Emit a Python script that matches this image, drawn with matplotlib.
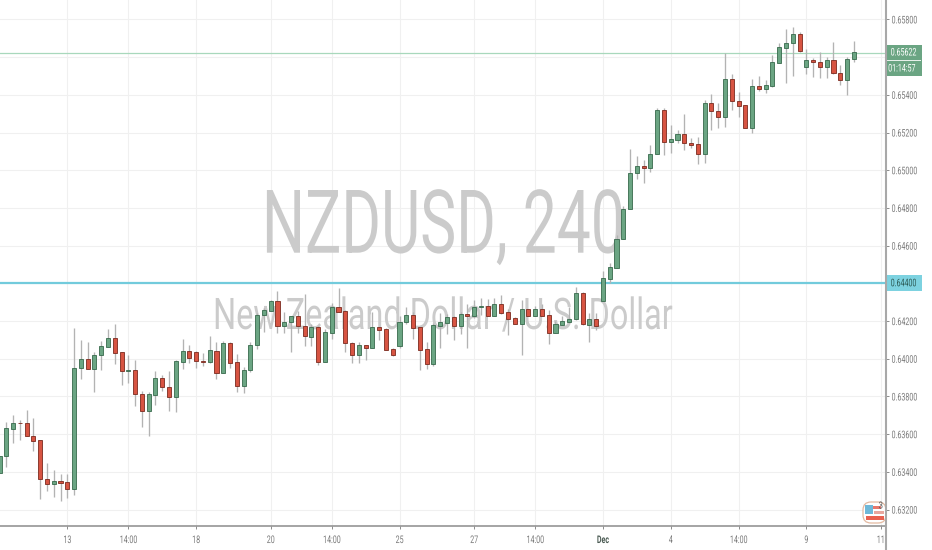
#!/usr/bin/python3
import matplotlib
matplotlib.use("Agg")
import matplotlib.pyplot as plt
import matplotlib.patheffects as pe
from matplotlib.lines import Line2D
from matplotlib.patches import Rectangle, FancyBboxPatch
from matplotlib.transforms import Affine2D, IdentityTransform

W, H = 932, 550
AXIS_X, AXIS_Y = 885, 526

# candles, oldest first
direction = ("GGGRRRRRGR" "RGGRGGGRRG" "RRGGRRGGRR" "RGRGRRGGGG" "GRGGRRGRGG"
             "RRRGRGRRRG" "GRRRGGGRGR" "GGRGRRRGRG" "RRGGGGRGRG" "GGGGGRGGRG"
             "GRRRGRRGRR" "RGRGGGGGRG" "RRGRRGG")
highs = [0.63486, 0.63663, 0.63703, 0.63675, 0.63728, 0.63686, 0.63569, 0.63447, 0.63412, 0.63389,
         0.63389, 0.64163, 0.64098, 0.64090, 0.64034, 0.64096, 0.64156, 0.64186, 0.64036, 0.64020,
         0.63995, 0.63827, 0.63822, 0.63933, 0.63915, 0.63937, 0.63993, 0.64103, 0.64073, 0.64039,
         0.64032, 0.64122, 0.64087, 0.64092, 0.64089, 0.64025, 0.63958, 0.64087, 0.64241, 0.64269,
         0.64313, 0.64361, 0.64246, 0.64228, 0.64255, 0.64343, 0.64187, 0.64174, 0.64157, 0.64295,
         0.64374, 0.64257, 0.64088, 0.64089, 0.64074, 0.64250, 0.64169, 0.64165, 0.64056, 0.64227,
         0.64275, 0.64247, 0.64169, 0.64091, 0.64192, 0.64241, 0.64240, 0.64227, 0.64250, 0.64293,
         0.64310, 0.64325, 0.64316, 0.64321, 0.64339, 0.64263, 0.64222, 0.64310, 0.64266, 0.64280,
         0.64289, 0.64257, 0.64201, 0.64227, 0.64272, 0.64381, 0.64356, 0.64245, 0.64241, 0.64463,
         0.64509, 0.64657, 0.64808, 0.65114, 0.65075, 0.65055, 0.65135, 0.65331, 0.65331, 0.65241,
         0.65211, 0.65296, 0.65172, 0.65175, 0.65370, 0.65405, 0.65359, 0.65620, 0.65511, 0.65417,
         0.65344, 0.65482, 0.65500, 0.65479, 0.65611, 0.65677, 0.65747, 0.65762, 0.65732, 0.65641,
         0.65597, 0.65625, 0.65599, 0.65678, 0.65558, 0.65602, 0.65686]
body_top = [0.63486, 0.63631, 0.63659, 0.63661, 0.63659, 0.63592, 0.63567, 0.63364, 0.63350, 0.63350,
            0.63344, 0.63951, 0.63999, 0.63999, 0.64020, 0.64067, 0.64110, 0.64110, 0.64034, 0.63942,
            0.63940, 0.63815, 0.63811, 0.63898, 0.63898, 0.63848, 0.63986, 0.64039, 0.64039, 0.64034,
            0.63990, 0.64044, 0.64043, 0.64083, 0.64083, 0.63981, 0.63942, 0.64073, 0.64232, 0.64258,
            0.64306, 0.64306, 0.64195, 0.64227, 0.64227, 0.64174, 0.64169, 0.64169, 0.64141, 0.64272,
            0.64272, 0.64252, 0.64086, 0.64074, 0.64072, 0.64169, 0.64169, 0.64158, 0.64051, 0.64197,
            0.64231, 0.64231, 0.64167, 0.64051, 0.64178, 0.64194, 0.64222, 0.64222, 0.64236, 0.64238,
            0.64275, 0.64280, 0.64280, 0.64291, 0.64289, 0.64247, 0.64217, 0.64266, 0.64266, 0.64263,
            0.64263, 0.64231, 0.64183, 0.64199, 0.64213, 0.64348, 0.64348, 0.64211, 0.64211, 0.64428,
            0.64486, 0.64636, 0.64795, 0.64986, 0.65023, 0.65025, 0.65087, 0.65320, 0.65320, 0.65167,
            0.65190, 0.65191, 0.65147, 0.65137, 0.65359, 0.65359, 0.65315, 0.65484, 0.65484, 0.65369,
            0.65344, 0.65445, 0.65445, 0.65450, 0.65572, 0.65654, 0.65673, 0.65723, 0.65723, 0.65587,
            0.65587, 0.65576, 0.65587, 0.65587, 0.65518, 0.65592, 0.65625]
body_bottom = [0.63394, 0.63482, 0.63627, 0.63657, 0.63588, 0.63565, 0.63360, 0.63337, 0.63336, 0.63343,
               0.63307, 0.63307, 0.63949, 0.63944, 0.63944, 0.64018, 0.64064, 0.64032, 0.63935, 0.63935,
               0.63813, 0.63721, 0.63721, 0.63808, 0.63848, 0.63799, 0.63799, 0.63983, 0.64006, 0.63988,
               0.63983, 0.63983, 0.63924, 0.63924, 0.63979, 0.63855, 0.63857, 0.63938, 0.64071, 0.64230,
               0.64255, 0.64174, 0.64172, 0.64193, 0.64172, 0.64119, 0.64118, 0.63982, 0.63982, 0.64137,
               0.64250, 0.64084, 0.64020, 0.64020, 0.64059, 0.64059, 0.64155, 0.64049, 0.64020, 0.64068,
               0.64194, 0.64165, 0.64049, 0.63973, 0.63973, 0.64176, 0.64190, 0.64176, 0.64176, 0.64229,
               0.64229, 0.64272, 0.64229, 0.64229, 0.64245, 0.64213, 0.64187, 0.64187, 0.64229, 0.64229,
               0.64229, 0.64137, 0.64137, 0.64181, 0.64195, 0.64210, 0.64183, 0.64181, 0.64176, 0.64309,
               0.64424, 0.64484, 0.64634, 0.64794, 0.64985, 0.65013, 0.65013, 0.65085, 0.65149, 0.65149,
               0.65163, 0.65144, 0.65135, 0.65087, 0.65085, 0.65313, 0.65282, 0.65284, 0.65366, 0.65341,
               0.65226, 0.65224, 0.65433, 0.65433, 0.65445, 0.65569, 0.65650, 0.65673, 0.65632, 0.65549,
               0.65574, 0.65549, 0.65549, 0.65518, 0.65477, 0.65477, 0.65590]
lows = [0.63394, 0.63424, 0.63551, 0.63571, 0.63588, 0.63512, 0.63254, 0.63297, 0.63268, 0.63247,
        0.63263, 0.63279, 0.63894, 0.63944, 0.63822, 0.63940, 0.64064, 0.63972, 0.63861, 0.63869,
        0.63751, 0.63636, 0.63588, 0.63756, 0.63831, 0.63724, 0.63719, 0.63944, 0.63977, 0.63951,
        0.63963, 0.63977, 0.63892, 0.63922, 0.63951, 0.63825, 0.63816, 0.63928, 0.64050, 0.64140,
        0.64251, 0.64135, 0.64136, 0.64036, 0.64136, 0.64066, 0.64068, 0.63966, 0.63982, 0.64107,
        0.64247, 0.64038, 0.63980, 0.63980, 0.63992, 0.64056, 0.64098, 0.64045, 0.64017, 0.64056,
        0.64187, 0.64105, 0.63943, 0.63946, 0.63964, 0.64056, 0.64134, 0.64098, 0.64130, 0.64059,
        0.64218, 0.64233, 0.64229, 0.64226, 0.64236, 0.64127, 0.64183, 0.64020, 0.64227, 0.64226,
        0.64229, 0.64077, 0.64137, 0.64180, 0.64192, 0.64208, 0.64181, 0.64088, 0.64151, 0.64309,
        0.64401, 0.64481, 0.64634, 0.64794, 0.64956, 0.64931, 0.64990, 0.65085, 0.65080, 0.65091,
        0.65144, 0.65105, 0.65119, 0.65032, 0.65038, 0.65216, 0.65225, 0.65228, 0.65320, 0.65281,
        0.65224, 0.65199, 0.65419, 0.65408, 0.65443, 0.65567, 0.65461, 0.65500, 0.65629, 0.65511,
        0.65496, 0.65491, 0.65489, 0.65511, 0.65450, 0.65399, 0.65574]

level = 0.644
last_price = 0.65622
countdown = "01:14:57"

price_ticks = [0.632, 0.634, 0.636, 0.638, 0.640, 0.642, 0.644, 0.646, 0.648, 0.650,
               0.652, 0.654, 0.656, 0.658]
time_ticks = [10, 19, 29, 40, 49, 59, 70, 79, 89, 99, 109, 119, 130]
time_labels = ["13", "14:00", "18", "20", "14:00", "25", "27", "14:00", "Dec", "4", "14:00", "9", "11"]

GREEN = "#6ba583"
RED = "#d75442"


class Squeeze(pe.AbstractPathEffect):
    """ Narrows a text sideways, the reference is compressed horizontally """
    def __init__(self, sx, anchor=0.5):
        super().__init__()
        self.sx = sx
        self.anchor = anchor

    def draw_path(self, renderer, gc, tpath, affine, rgbFace=None):
        box = tpath.get_extents(affine)
        x0 = box.x0 + self.anchor * box.width
        squeezed = affine + Affine2D().translate(-x0, 0).scale(self.sx, 1).translate(x0, 0)
        renderer.draw_path(gc, tpath, squeezed, rgbFace)


def fx(x):
    return x / W


def fy(y):
    return 1 - y / H


def px_rect(x, y, w, h, color, zorder=6):
    fig.add_artist(Rectangle((fx(x), fy(y + h)), w / W, h / H, transform=fig.transFigure,
                             facecolor=color, edgecolor="none", zorder=zorder))


fig = plt.figure(figsize=(W / 100, H / 100), dpi=100)
ax = fig.add_axes([0, 1 - AXIS_Y / H, AXIS_X / W, AXIS_Y / H])
ax.set_xlim(0.074, 130.6)
ax.set_ylim(0.63113, 0.65903)

ax.grid(True, color="#f0f0f0", linewidth=0.8, zorder=0)
ax.set_axisbelow(True)

# watermark
ax.text(443, H - 252.7, "NZDUSD, 240", transform=None, family="Roboto", fontsize=63.5, color="#cbcbcb",
        ha="center", va="baseline", zorder=1, path_effects=[Squeeze(0.686)])
ax.text(443, H - 329, "New Zealand Dollar / U.S. Dollar", transform=None, family="Roboto", fontsize=31.4,
        color="#cbcbcb", ha="center", va="baseline", zorder=1, path_effects=[Squeeze(0.743)])

ax.axhline(level, color="#72cbdc", linewidth=1.6, zorder=2)
ax.axhline(last_price, color="#a8d8bc", linewidth=0.9, zorder=2)

# candles
xs = list(range(len(direction)))
colors = [GREEN if d == "G" else RED for d in direction]
edges = ["#37694c" if d == "G" else "#7a2a1e" for d in direction]
ax.vlines(xs, lows, highs, color="#b3b3b3", linewidth=0.95, zorder=3)
heights = [t - b for t, b in zip(body_top, body_bottom)]
ax.bar(xs, heights, bottom=body_bottom, width=0.6, color=colors, edgecolor=edges, linewidth=0.6, zorder=4)

# axes
for side in ["top", "left", "right"]:
    ax.spines[side].set_visible(False)
ax.spines["bottom"].set_color("#8c8c8c")
ax.spines["bottom"].set_linewidth(1.1)
fig.add_artist(Line2D([fx(AXIS_X + 0.5)] * 2, [0, 1], transform=fig.transFigure, color="#a8a8a8",
                      linewidth=1.5, zorder=9))

ax.yaxis.tick_right()
ax.set_yticks(price_ticks)
ax.set_yticklabels(["" if p in (level, 0.656) else "%.5f" % p for p in price_ticks])
ax.tick_params(axis="y", length=3, width=0.7, color="#8c8c8c", labelsize=7.6, labelcolor="#7a7a7a", pad=1.6)
for lab in ax.get_yticklabels():
    lab.set_family("Roboto")
    lab.set_path_effects([Squeeze(0.67, anchor=0)])

ax.set_xticks(time_ticks)
ax.set_xticklabels(time_labels)
ax.tick_params(axis="x", length=2.5, width=0.7, color="#8c8c8c", labelsize=7.6, labelcolor="#7a7a7a", pad=4)
for lab in ax.get_xticklabels():
    lab.set_family("Roboto")
    lab.set_path_effects([Squeeze(0.67)])
    if lab.get_text() == "Dec":
        lab.set_weight("bold")
        lab.set_color("#4a5a52")

# price tags on the scale
px_rect(886, 45, 36, 31, GREEN)
px_rect(887, 60.2, 34, 0.9, "#e6f0ea")
px_rect(886, 275, 36, 16, "#7dd2e0")
tag = dict(family="Roboto", fontsize=7.6, va="center", ha="left", zorder=7, transform=fig.transFigure,
           path_effects=[Squeeze(0.67, anchor=0)])
fig.text(fx(890.5), fy(52.5), "%.5f" % last_price, color="white", **tag)
fig.text(fx(888), fy(68.5), countdown, color="white", **tag)
fig.text(fx(890.5), fy(283.3), "%.5f" % level, color="#2c5a55", **tag)

# events badge in the corner
fig.add_artist(FancyBboxPatch((866, H - 520), 17, 15, boxstyle="round,pad=3,rounding_size=8",
                              transform=IdentityTransform(), facecolor="white", edgecolor="#e3b9a0",
                              linewidth=0.9, zorder=6))
px_rect(865, 505, 8, 9, "#6fb8d8", zorder=7)
px_rect(873, 506, 8, 3, "#e8776a", zorder=7)
px_rect(874, 511, 10, 3, "#e8a79e", zorder=7)
px_rect(866, 516, 18, 4, "#e8604f", zorder=7)
fig.text(fx(878.5), fy(505.5), "3", family="Roboto", fontsize=7, color="#555555", ha="left", va="center",
         zorder=8, path_effects=[Squeeze(0.8, anchor=0)])

fig.savefig("out.png", dpi=100)
